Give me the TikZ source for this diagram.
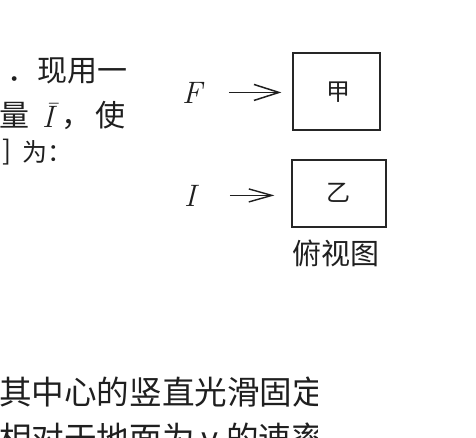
\documentclass[tikz,border=0pt]{standalone}
\usepackage{fontspec}
\newfontfamily\cjk{Noto Sans CJK SC}
\usetikzlibrary{arrows.meta}
\begin{document}
\begin{tikzpicture}[x=1pt,y=-1pt,
  txt/.style={inner sep=0pt, outer sep=0pt, text=black!88, font=\cjk\fontsize{30}{30}\selectfont},
  smalltxt/.style={txt, font=\cjk\fontsize{25}{25}\selectfont},
  boxtxt/.style={txt, font=\cjk\fontsize{24}{24}\selectfont},
  bigtxt/.style={txt, font=\cjk\fontsize{32.6}{33}\selectfont},
  lat/.style={inner sep=0pt, outer sep=0pt, text=black!88, font=\fontsize{31}{31}\selectfont\itshape},
  framebox/.style={draw=black!85, line width=1.2pt, inner sep=0pt, fill=none},
  arrA/.style={draw=black!88, line width=1.5pt, -{Straight Barb[length=25pt,width=16pt]}},
  arrB/.style={draw=black!88, line width=1.4pt, -{Straight Barb[length=23pt,width=13pt]}}
]
\useasboundingbox (0,0) rectangle (476,437);

% left text fragments
\node[txt, anchor=base east] (l1) at (127,81) {．现用一};
\node[txt, anchor=base east] (l2a) at (29,126) {量};
\node[lat, anchor=base] (l2b) at (48,127) {\={I}};
\node[txt, anchor=base west] (l2c) at (61,126) {，};
\node[txt, anchor=base west] (l2d) at (95,126) {使};
\node[txt, anchor=base east, font=\cjk\fontsize{27}{27}\selectfont] (l3a) at (12,160) {]};
\node[smalltxt, anchor=base west] (l3b) at (22,161) {为};
\node[smalltxt, anchor=base west] (l3c) at (47,161) {：};

% boxes
\node[framebox, minimum width=87pt, minimum height=77pt] (boxA) at (336.5,91.5) {};
\node[boxtxt] (jia) at (338,92) {甲};
\node[framebox, minimum width=94pt, minimum height=67pt] (boxB) at (339,193.5) {};
\node[boxtxt] (yi) at (338,193) {乙};
\node[txt, font=\cjk\fontsize{29}{29}\selectfont] (cap) at (336,253) {俯视图};

% labels and arrows
\node[lat, anchor=base] (F) at (192,103) {F};
\node[lat, anchor=base] (I) at (190,206) {I};
\draw[arrA, shorten <=27pt, shorten >=11pt] (F.east) -- (F.east -| boxA.west);
\draw[arrB, shorten <=34pt, shorten >=17pt] (I.east) -- (I.east -| boxB.west);

% bottom text, cut at the right and bottom as in the reference
\begin{scope}
  \clip (0,360) rectangle (317,437);
  \node[bigtxt, anchor=base west] (b1) at (-1,404.5) {其中心的竖直光滑固定};
  \node[bigtxt, anchor=base west] (b2) at (-1,450) {相对于地面为 {\fontsize{32.6}{33}\selectfont\itshape v} 的速率};
\end{scope}
\end{tikzpicture}
\end{document}
